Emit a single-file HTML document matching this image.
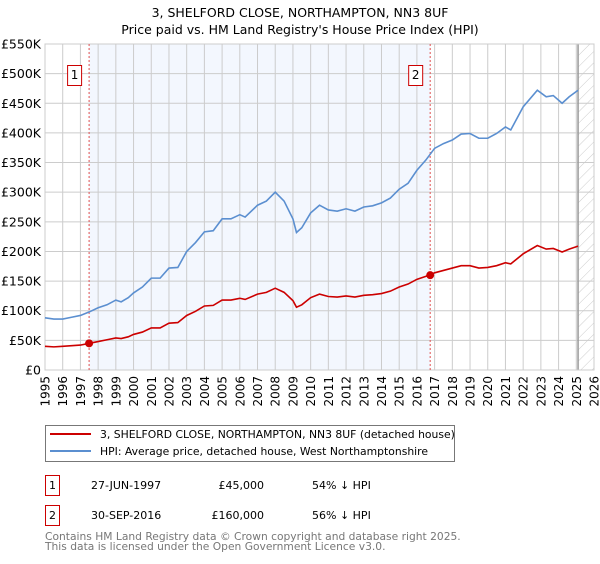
<!DOCTYPE html>
<html><head><meta charset="utf-8">
<style>
body{margin:0;background:#fff;font-family:"DejaVu Sans","Liberation Sans",sans-serif;}
svg text{font-family:"DejaVu Sans","Liberation Sans",sans-serif;}
</style></head>
<body>
<svg id="chart" width="600" height="560" xmlns="http://www.w3.org/2000/svg">
<defs>
<pattern id="hatch" patternUnits="userSpaceOnUse" width="8" height="8" patternTransform="rotate(45)">
<line x1="0" y1="0" x2="0" y2="8" stroke="#ccc" stroke-width="1"/>
</pattern>
</defs>
<text x="300" y="17" font-size="12.5" text-anchor="middle" fill="#000">3, SHELFORD CLOSE, NORTHAMPTON, NN3 8UF</text>
<text x="300" y="34" font-size="12.5" text-anchor="middle" fill="#000">Price paid vs. HM Land Registry's House Price Index (HPI)</text>
<g id="plot"></g>
<g>
<rect x="45.5" y="425.5" width="409" height="36" fill="#fff" stroke="#777"/>
<line x1="50" y1="434" x2="91" y2="434" stroke="#cc0000" stroke-width="2"/>
<text x="100" y="438" font-size="10.8">3, SHELFORD CLOSE, NORTHAMPTON, NN3 8UF (detached house)</text>
<line x1="50" y1="451" x2="91" y2="451" stroke="#5b8fd0" stroke-width="2"/>
<text x="100" y="455" font-size="10.8">HPI: Average price, detached house, West Northamptonshire</text>
</g>
<g font-size="11">
<rect x="45.5" y="475.5" width="14" height="20" fill="#fff" stroke="#cc0000"/>
<text x="52.5" y="489" text-anchor="middle">1</text>
<text x="91" y="489">27-JUN-1997</text>
<text x="264" y="489" text-anchor="end">£45,000</text>
<text x="312" y="489">54% ↓ HPI</text>
</g>
<g font-size="11">
<rect x="45.5" y="505.5" width="14" height="20" fill="#fff" stroke="#cc0000"/>
<text x="52.5" y="519" text-anchor="middle">2</text>
<text x="91" y="519">30-SEP-2016</text>
<text x="264" y="519" text-anchor="end">£160,000</text>
<text x="312" y="519">56% ↓ HPI</text>
</g>
<text x="45" y="540" font-size="10.7" fill="#777">Contains HM Land Registry data © Crown copyright and database right 2025.</text>
<text x="45" y="550" font-size="10.7" fill="#777">This data is licensed under the Open Government Licence v3.0.</text>
</svg>
<script>
const hpiYears=[1995,1995.5,1996,1996.5,1997,1997.5,1998,1998.5,1999,1999.3,1999.7,2000,2000.5,2001,2001.5,2002,2002.5,2003,2003.5,2004,2004.5,2005,2005.5,2006,2006.3,2007,2007.5,2008,2008.5,2009,2009.2,2009.5,2010,2010.5,2011,2011.5,2012,2012.5,2013,2013.5,2014,2014.5,2015,2015.5,2016,2016.5,2017,2017.5,2018,2018.5,2019,2019.5,2020,2020.5,2021,2021.3,2022,2022.8,2023.3,2023.7,2024.2,2024.6,2025.1];
const hpiValues=[88,86,86,89,92,98,105,110,118,115,122,130,140,155,155,172,173,200,215,233,235,255,255,262,258,278,285,300,285,255,232,240,265,278,270,268,272,268,275,277,282,290,305,315,337,354,374,382,388,398,399,391,391,399,410,405,444,472,461,463,450,461,472];
const redYears=hpiYears;
const redValues=[40,39,40,41,42,45,48,51,54,53,56,60,64,71,71,79,80,92,99,108,109,118,118,121,119,128,131,138,131,117,106,110,122,128,124,123,125,123,126,127,129,133,140,145,153,158,164,168,172,176,176,172,173,176,181,179,196,210,204,205,199,204,209];
const yTicks=[0,50,100,150,200,250,300,350,400,450,500,550];
const yTickLabels=["£0","£50K","£100K","£150K","£200K","£250K","£300K","£350K","£400K","£450K","£500K","£550K"];
const xTicks=[1995,1996,1997,1998,1999,2000,2001,2002,2003,2004,2005,2006,2007,2008,2009,2010,2011,2012,2013,2014,2015,2016,2017,2018,2019,2020,2021,2022,2023,2024,2025,2026];
const saleYears=[1997.49,2016.75];
const saleValues=[45,160];
const saleLabels=["1","2"];

const L=45,R=594,T=44,B=370;
const xS=y=>L+(y-1995)/(2026-1995)*(R-L);
const yS=v=>B-v/550*(B-T);
const NS="http://www.w3.org/2000/svg";
const g=document.getElementById('plot');
function mk(tag,attrs,parent){const e=document.createElementNS(NS,tag);for(const k in attrs)e.setAttribute(k,attrs[k]);(parent||g).appendChild(e);return e;}

const bg=mk('rect',{x:L,y:T,width:R-L,height:B-T,fill:'#fff'});


const shade=mk('rect',{x:xS(saleYears[0]),y:T,width:xS(saleYears[1])-xS(saleYears[0]),height:B-T,fill:'#eef3fd',opacity:0.7});


const hatch=mk('rect',{x:xS(2025.1),y:T,width:R-xS(2025.1),height:B-T,fill:'url(#hatch)'});



xTicks.forEach(t=>{
 const l=mk('line',{x1:xS(t),x2:xS(t),y1:T,y2:B,stroke:'#ccc','stroke-width':1});
 
 
 const tx=mk('text',{x:0,y:0,'font-size':12,'text-anchor':'end',transform:`translate(${xS(t)+4.5},${B+6}) rotate(-90)`});
 
 
 tx.textContent=t;
});
yTicks.forEach((t,i)=>{
 const l=mk('line',{x1:L,x2:R,y1:yS(t),y2:yS(t),stroke:'#ccc','stroke-width':1});
 
 
 const tx=mk('text',{x:L-4,y:yS(t)+4.5,'font-size':12.5,'text-anchor':'end'});
 
 
 tx.textContent=yTickLabels[i];
});
const nowLine=mk('line',{x1:xS(2025.1),x2:xS(2025.1),y1:T,y2:B,stroke:'#999','stroke-width':1.5});


const frame=mk('rect',{x:L,y:T,width:R-L,height:B-T,fill:'none',stroke:'#ccc'});



saleYears.forEach((s,i)=>{
 const l=mk('line',{x1:xS(s),x2:xS(s),y1:T,y2:B,stroke:'#e05050','stroke-width':1,'stroke-dasharray':'2,2'});
 
 
 const bx=mk('rect',{x:xS(s)-21.5,y:65.5,width:14,height:20,fill:'#fff',stroke:'#cc0000'});
 
 
 const tx=mk('text',{x:xS(s)-14.5,y:79,'font-size':12,'text-anchor':'middle'});
 
 
 tx.textContent=saleLabels[i];
});

const hp=mk('polyline',{points:hpiYears.map((y,i)=>xS(y)+','+yS(hpiValues[i])).join(' '),fill:'none',stroke:'#5b8fd0','stroke-width':1.6});


const rp=mk('polyline',{points:redYears.map((y,i)=>xS(y)+','+yS(redValues[i])).join(' '),fill:'none',stroke:'#cc0000','stroke-width':1.6});


saleYears.forEach((s,i)=>{
 const c=mk('circle',{cx:xS(s),cy:yS(saleValues[i]),r:4,fill:'#cc0000'});
 
 
});
</script>
</body></html>
